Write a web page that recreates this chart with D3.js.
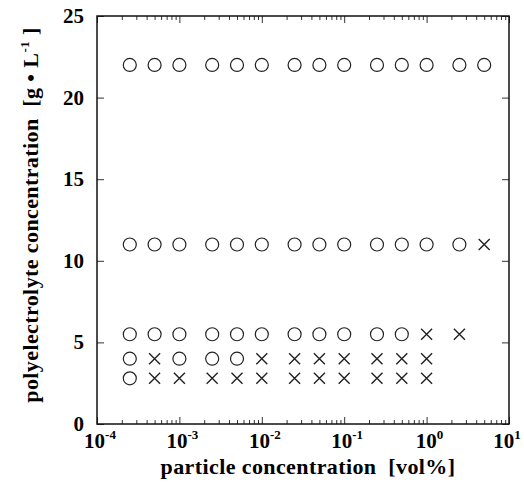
<!DOCTYPE html>
<html>
<head>
<meta charset="utf-8">
<script src="https://cdn.jsdelivr.net/npm/d3@7"></script>
<style>
  body { margin: 0; background: #fff; }
  text { font-family: "Liberation Serif", "Times New Roman", serif; font-weight: bold; fill: #000; white-space: pre; }
</style>
</head>
<body>
<svg id="chart" width="524" height="486"></svg>
<script>
// particle concentrations (vol%) used in every row
const particleConc = [2.5e-4, 5e-4, 1e-3, 2.5e-3, 5e-3, 1e-2, 2.5e-2, 5e-2, 0.1, 0.25, 0.5, 1, 2.5, 5];
// polyelectrolyte concentrations (g/L), one row each
const polyConc = [22, 11, 5.5, 4, 2.8];
// o = stable, x = flocculated, - = not measured
const rowStates = [
    "oooooooooooooo",
    "ooooooooooooox",
    "oooooooooooxx-",
    "oxoooxxxxxxx--",
    "oxxxxxxxxxxx--"
];
const xDecades = [-4, -3, -2, -1, 0, 1];
const yTicks = [0, 5, 10, 15, 20, 25];

const svg = d3.select("#chart");
const margin = { top: 16, right: 15, bottom: 62, left: 97 },
    width = 524 - margin.left - margin.right,
    height = 486 - margin.top - margin.bottom;

const x = d3.scaleLog().domain([1e-4, 10]).range([0, width]);
const y = d3.scaleLinear().domain([0, 25]).range([height, 0]);

const g = svg.append("g")
    .attr("transform", "translate(" + margin.left + "," + margin.top + ")");

// build point list from the rows
const points = [];
rowStates.forEach((row, i) => {
    row.split("").forEach((s, j) => {
        if (s !== "-") points.push({ x: particleConc[j], y: polyConc[i], type: s });
    });
});

// ticks, all pointing inward
const isMajor = v => Math.abs(Math.log10(v) - Math.round(Math.log10(v))) < 1e-6;
const xTicks = x.ticks();

function tickAxis(axis) {
    return axis.tickFormat("").tickSizeOuter(0);
}
g.append("g").attr("transform", "translate(0," + height + ")")
    .call(tickAxis(d3.axisBottom(x).tickValues(xTicks)))
    .selectAll(".tick line").attr("y2", d => isMajor(d) ? -7 : -4);
g.append("g")
    .call(tickAxis(d3.axisTop(x).tickValues(xTicks)))
    .selectAll(".tick line").attr("y2", d => isMajor(d) ? 7 : 4);
g.append("g")
    .call(tickAxis(d3.axisLeft(y).tickValues(yTicks)))
    .selectAll(".tick line").attr("x2", 7);
g.append("g").attr("transform", "translate(" + width + ",0)")
    .call(tickAxis(d3.axisRight(y).tickValues(yTicks)))
    .selectAll(".tick line").attr("x2", -7);
g.selectAll(".domain").remove();
g.selectAll(".tick line").attr("stroke", "#333").attr("stroke-width", 1);

// frame
g.append("rect")
    .attr("width", width).attr("height", height)
    .attr("fill", "none").attr("stroke", "#111").attr("stroke-width", 1.5);

// y tick labels
g.selectAll(".ylab")
    .data(yTicks)
    .enter().append("text")
    .attr("class", "ylab")
    .attr("x", -13)
    .attr("y", d => y(d) + 7)
    .attr("text-anchor", "end")
    .style("font-size", "21px")
    .text(d => d);

// x tick labels with superscript exponents (last one nudged to stay on the page)
const xl = g.selectAll(".xlab")
    .data(xDecades)
    .enter().append("text")
    .attr("class", "xlab")
    .attr("x", (d, i) => x(Math.pow(10, d)) + (i === xDecades.length - 1 ? -2 : 3))
    .attr("y", height + 24)
    .attr("text-anchor", "middle")
    .style("font-size", "21px");
xl.append("tspan").text("10");
xl.append("tspan").attr("dy", -9).style("font-size", "13px").text(d => d);

// axis titles
g.append("text")
    .attr("x", width / 2 + 5)
    .attr("y", height + 50)
    .attr("text-anchor", "middle")
    .style("font-size", "22px")
    .style("letter-spacing", "0.4px")
    .text("particle concentration  [vol%]");

const yt = svg.append("text")
    .attr("transform", "translate(38," + 215 + ") rotate(-90)")
    .attr("text-anchor", "middle")
    .style("font-size", "22px")
    .style("letter-spacing", "0.4px");
yt.append("tspan").text("polyelectrolyte concentration  [g \u2022 L");
yt.append("tspan").attr("dy", -9).style("font-size", "13px").text("-1");
yt.append("tspan").attr("dy", 9).text(" ]");

// markers
const r = 6.5;
g.selectAll(".circ")
    .data(points.filter(p => p.type === "o"))
    .enter().append("circle")
    .attr("class", "circ")
    .attr("cx", d => x(d.x))
    .attr("cy", d => y(d.y))
    .attr("r", r)
    .attr("fill", "none")
    .attr("stroke", "#222")
    .attr("stroke-width", 1.2);

const c = 5.5;
g.selectAll(".cross")
    .data(points.filter(p => p.type === "x"))
    .enter().append("path")
    .attr("class", "cross")
    .attr("d", d => {
        const px = x(d.x), py = y(d.y);
        return `M${px - c},${py - c}L${px + c},${py + c}M${px - c},${py + c}L${px + c},${py - c}`;
    })
    .attr("fill", "none")
    .attr("stroke", "#222")
    .attr("stroke-width", 1.4);
</script>
</body>
</html>
